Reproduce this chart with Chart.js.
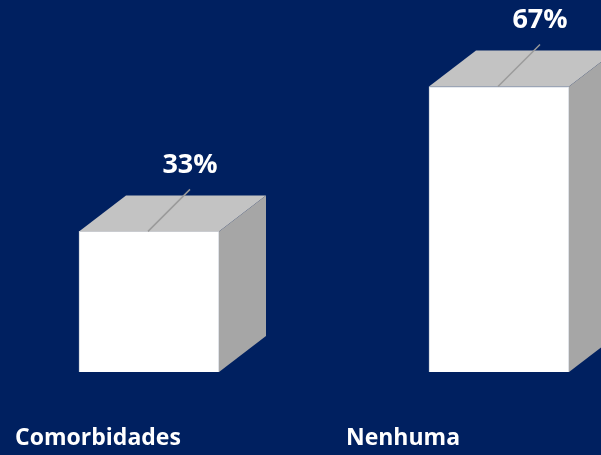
<!DOCTYPE html>
<html>
<head>
<meta charset="utf-8">
<script src="https://cdn.jsdelivr.net/npm/chart.js@4.4.0/dist/chart.umd.min.js"></script>
<style>
  html, body { margin: 0; padding: 0; background: #002060; }
  canvas { display: block; }
</style>
</head>
<body>
<canvas id="chart-canvas" width="601" height="455"></canvas>
<script>
// chart data
const categories = ["Comorbidades", "Nenhuma"];
const percentValues = [33, 67];

// 3D box look
const depthX = 47;
const depthY = 36;
const topColor = "#c3c3c3";
const sideColor = "#a6a6a6";
// category labels sit left of their bars in the original slide
const labelShift = [-51, -96];

// draws the top and right side of each bar, then the % labels with leader lines
const boxPlugin = {
    id: "box3d",
    beforeDraw: function(chart){
        const ctx = chart.ctx;
        ctx.save();
        ctx.fillStyle = "#002060";
        ctx.fillRect(0, 0, chart.width, chart.height);
        ctx.restore();
    },
    afterDatasetsDraw: function(chart){
        const ctx = chart.ctx;
        const meta = chart.getDatasetMeta(0);
        const xScale = chart.scales.x;
        ctx.save();
        meta.data.forEach(function(bar, i){
            const left = bar.x - bar.width / 2;
            const right = bar.x + bar.width / 2;
            const top = bar.y;
            const base = bar.base;

            // top face
            ctx.fillStyle = topColor;
            ctx.beginPath();
            ctx.moveTo(left, top);
            ctx.lineTo(left + depthX, top - depthY);
            ctx.lineTo(right + depthX, top - depthY);
            ctx.lineTo(right, top);
            ctx.closePath();
            ctx.fill();

            // side face
            ctx.fillStyle = sideColor;
            ctx.beginPath();
            ctx.moveTo(right, top);
            ctx.lineTo(right + depthX, top - depthY);
            ctx.lineTo(right + depthX, base - depthY);
            ctx.lineTo(right, base);
            ctx.closePath();
            ctx.fill();

            // leader line
            ctx.strokeStyle = "#9a9a9a";
            ctx.lineWidth = 1.5;
            ctx.beginPath();
            ctx.moveTo(bar.x - 1, top);
            ctx.lineTo(bar.x + 41, top - 42);
            ctx.stroke();

            // value label
            ctx.fillStyle = "#ffffff";
            ctx.font = "bold 27px 'Open Sans'";
            ctx.textAlign = "center";
            ctx.textBaseline = "middle";
            ctx.fillText(percentValues[i] + "%", bar.x + 41, top - 66);

            // category label, placed from the x scale
            ctx.font = "bold 23px 'Open Sans'";
            ctx.fillText(categories[i], xScale.getPixelForTick(i) + labelShift[i], xScale.top + 66);
        });
        ctx.restore();
    }
};

new Chart("chart-canvas", {
    type: "bar",
    data: {
        labels: categories,
        datasets: [{
            data: percentValues,
            backgroundColor: "#ffffff",
            borderColor: "#d0d4dc",
            borderWidth: 1,
            barThickness: 140,
            clip: false
        }]
    },
    options: {
        responsive: false,
        animation: false,
        layout: {
            padding: { left: 149, right: 102, top: 0, bottom: 0 }
        },
        plugins: {
            legend: { display: false },
            tooltip: { enabled: false }
        },
        scales: {
            x: {
                offset: false,
                grid: { display: false, drawTicks: false },
                border: { display: false },
                ticks: { display: false },
                afterFit: function(scale){
                    scale.height = 83;
                }
            },
            y: {
                display: false,
                min: 0,
                max: 87.3
            }
        }
    },
    plugins: [boxPlugin]
});
</script>
</body>
</html>
